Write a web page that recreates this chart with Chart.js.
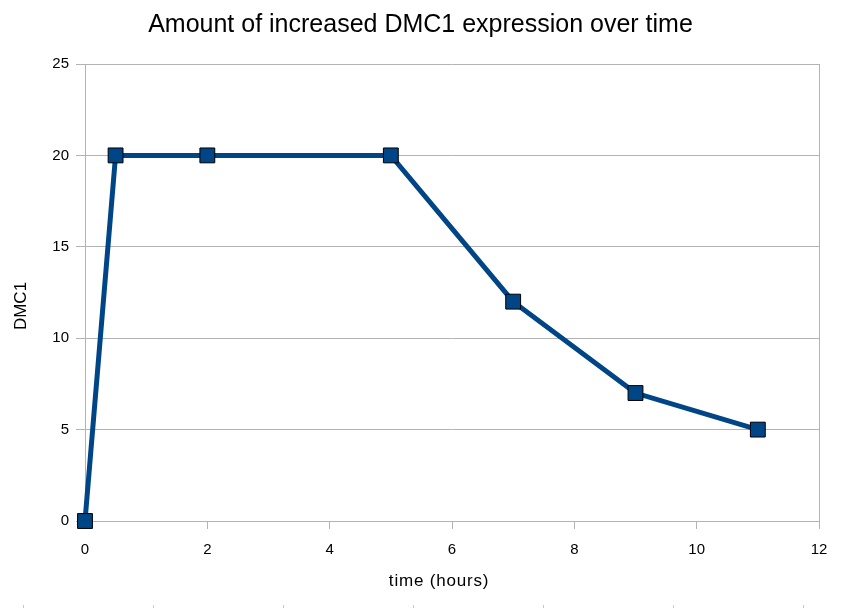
<!DOCTYPE html>
<html>
<head>
<meta charset="utf-8">
<script src="https://cdn.jsdelivr.net/npm/chart.js@4.4.0/dist/chart.umd.min.js"></script>
<style>
html,body{margin:0;padding:0;background:#fff;}
#wrap{position:relative;width:841px;height:608px;}
</style>
</head>
<body>
<div id="wrap"><canvas id="c" width="841" height="608"></canvas></div>
<script>
const timeHours = [0, 0.5, 2, 5, 7, 9, 11];
const dmc1Values = [0, 20, 20, 20, 12, 7, 5];
const xTicks = [0, 2, 4, 6, 8, 10, 12];
const yTicks = [0, 5, 10, 15, 20, 25];
const chartTitle = 'Amount of increased DMC1 expression over time';
const xTitle = 'time (hours)';
const yTitle = 'DMC1';

const gridGray = '#b3b3b3';
const font = 'Liberation Sans, Arial, sans-serif';

const titlesPlugin = {
  id: 'titles',
  afterDraw(chart) {
    const ctx = chart.ctx;
    ctx.save();
    ctx.fillStyle = '#000';
    ctx.textAlign = 'center';
    ctx.textBaseline = 'middle';
    ctx.font = '25px ' + font;
    ctx.fillText(chartTitle, chart.width / 2, 25);
    ctx.font = '17px ' + font;
    if ('letterSpacing' in ctx) ctx.letterSpacing = '0.8px';
    ctx.fillText(xTitle, 439, 581);
    if ('letterSpacing' in ctx) ctx.letterSpacing = '0px';
    ctx.save();
    ctx.translate(21, 306);
    ctx.rotate(-Math.PI / 2);
    ctx.fillText(yTitle, 0, 0);
    ctx.restore();
    // faint page-edge marks along the bottom
    ctx.strokeStyle = '#c8c8c8';
    ctx.lineWidth = 1;
    for (let x = 23; x < chart.width; x += 130) {
      ctx.beginPath();
      ctx.moveTo(x + 0.5, 605);
      ctx.lineTo(x + 0.5, 608);
      ctx.stroke();
    }
    ctx.restore();
  }
};

new Chart(document.getElementById('c'), {
  type: 'line',
  data: {
    datasets: [{
      data: timeHours.map((t, i) => ({x: t, y: dmc1Values[i]})),
      borderColor: '#004586',
      backgroundColor: '#004586',
      borderWidth: 5,
      pointStyle: 'rect',
      pointRadius: 10.5,
      pointHoverRadius: 10.5,
      pointBackgroundColor: '#004586',
      pointBorderColor: '#000000',
      pointBorderWidth: 1,
      tension: 0,
      clip: false
    }]
  },
  plugins: [titlesPlugin],
  options: {
    responsive: false,
    animation: false,
    devicePixelRatio: 1,
    layout: {padding: {left: 0, right: 22, top: 64, bottom: 0}},
    plugins: {
      legend: {display: false},
      tooltip: {enabled: false},
      title: {display: false}
    },
    scales: {
      x: {
        type: 'linear',
        min: 0, max: 12,
        afterBuildTicks: s => { s.ticks = xTicks.map(v => ({value: v})); },
        afterFit: s => { s.height = 87; },
        ticks: {color: '#000', font: {family: font, size: 15}, padding: 12, maxRotation: 0},
        grid: {
          color: c => (c.tick && c.tick.value === 12) ? gridGray : 'rgba(0,0,0,0)',
          tickColor: gridGray,
          tickLength: 8,
          lineWidth: 1
        },
        border: {color: gridGray, width: 1},
        title: {display: false}
      },
      y: {
        type: 'linear',
        min: 0, max: 25,
        afterBuildTicks: s => { s.ticks = yTicks.map(v => ({value: v})); },
        afterFit: s => { s.width = 85; },
        ticks: {color: '#000', font: {family: font, size: 15}, padding: 7},
        grid: {color: gridGray, tickColor: gridGray, tickLength: 9, lineWidth: 1},
        border: {color: gridGray, width: 1},
        title: {display: false}
      }
    }
  }
});
</script>
</body>
</html>
